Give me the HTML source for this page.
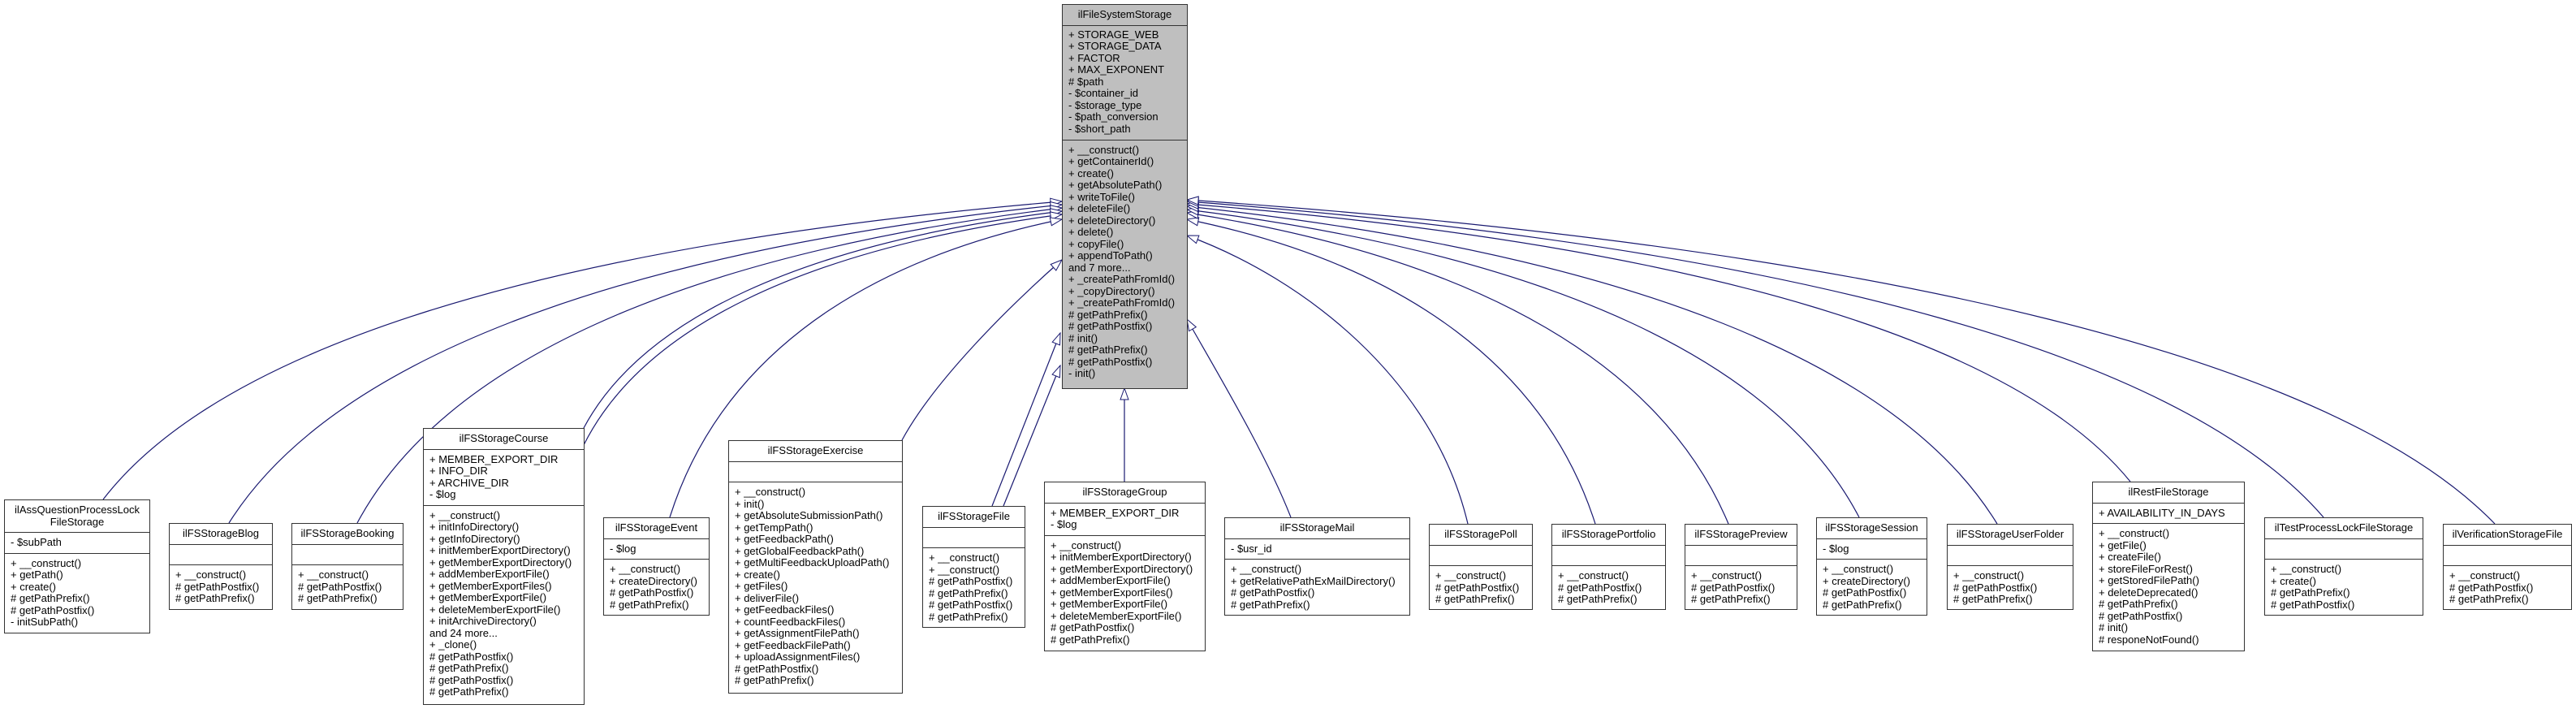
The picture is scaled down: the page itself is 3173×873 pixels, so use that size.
<!DOCTYPE html>
<html><head><meta charset="utf-8"><style>
html,body{margin:0;padding:0;background:#fff;}
body{width:3173px;height:873px;position:relative;overflow:hidden;font-family:"Liberation Sans",Arial,sans-serif;font-size:13px;color:#000;}
.b{position:absolute;border:1px solid #333;background:#fff;box-sizing:border-box;}
.b.main{background:#bfbfbf;}
.t{text-align:center;line-height:14.5px;padding:5px 3px 5px;border-bottom:1px solid #333;white-space:nowrap;}
.s{line-height:14.5px;padding:5px 7px 5px;border-bottom:1px solid #333;white-space:nowrap;min-height:14.5px;}
.s:last-child{border-bottom:none;}
svg{position:absolute;left:0;top:0;}
</style></head><body>
<svg width="3173" height="873" viewBox="0 0 3173 873">
<defs><marker id="a" markerUnits="userSpaceOnUse" markerWidth="16" markerHeight="12" viewBox="-1 -6 16 12" refX="14" refY="0" orient="auto"><polygon points="0,-5 14,0 0,5" fill="#fff" stroke="#191970" stroke-width="1"/></marker></defs>
<g fill="none" stroke="#191970" stroke-width="1.2" marker-end="url(#a)">
<path d="M127,615 C269,431 658,303 1308,248"/>
<path d="M282,644 C405,448 744,311 1308,252"/>
<path d="M440,644 C544,450 831,314 1308,256"/>
<path d="M719,527 C790,394 984,300 1308,260"/>
<path d="M719,548 C790,406 984,307 1308,264"/>
<path d="M825,637 C883,454 1042,325 1308,270"/>
<path d="M1111,542 C1150,470 1240,380 1308,320"/>
<path d="M1222,623 L1306,410"/>
<path d="M1236,623 L1306,450"/>
<path d="M1385,593 L1385,478"/>
<path d="M1590,637 C1560,560 1500,460 1462,393"/>
<path d="M1808,645 C1766,467 1606,343 1462,290"/>
<path d="M1965,645 C1905,457 1736,326 1462,270"/>
<path d="M2129,645 C2049,453 1829,319 1462,262"/>
<path d="M2290,637 C2191,447 1917,315 1462,258"/>
<path d="M2460,645 C2340,449 2011,313 1462,254"/>
<path d="M2624,593 C2485,422 2101,302 1462,251"/>
<path d="M2862,637 C2694,442 2232,306 1462,248"/>
<path d="M3073,645 C2880,445 2337,306 1462,246"/>
</g></svg>

<div class="b main" style="left:1308px;top:5px;width:155px;height:474px;">
<div class="t">ilFileSystemStorage</div>
<div class="s" style="height:132px;box-sizing:content-box;padding-top:4px;padding-bottom:4px">+ STORAGE_WEB<br>+ STORAGE_DATA<br>+ FACTOR<br>+ MAX_EXPONENT<br># $path<br>- $container_id<br>- $storage_type<br>- $path_conversion<br>- $short_path</div>
<div class="s">+ __construct()<br>+ getContainerId()<br>+ create()<br>+ getAbsolutePath()<br>+ writeToFile()<br>+ deleteFile()<br>+ deleteDirectory()<br>+ delete()<br>+ copyFile()<br>+ appendToPath()<br>and 7 more...<br>+ _createPathFromId()<br>+ _copyDirectory()<br>+ _createPathFromId()<br># getPathPrefix()<br># getPathPostfix()<br># init()<br># getPathPrefix()<br># getPathPostfix()<br>- init()</div>
</div>

<div class="b" style="left:5px;top:615px;width:180px;height:165px;">
<div class="t">ilAssQuestionProcessLock<br>FileStorage</div>
<div class="s">- $subPath</div>
<div class="s">+ __construct()<br>+ getPath()<br>+ create()<br># getPathPrefix()<br># getPathPostfix()<br>- initSubPath()</div>
</div>

<div class="b" style="left:208px;top:644px;width:128px;height:107px;">
<div class="t">ilFSStorageBlog</div>
<div class="s"></div>
<div class="s">+ __construct()<br># getPathPostfix()<br># getPathPrefix()</div>
</div>

<div class="b" style="left:359px;top:644px;width:138px;height:107px;">
<div class="t">ilFSStorageBooking</div>
<div class="s"></div>
<div class="s">+ __construct()<br># getPathPostfix()<br># getPathPrefix()</div>
</div>

<div class="b" style="left:521px;top:527px;width:199px;height:341px;">
<div class="t">ilFSStorageCourse</div>
<div class="s">+ MEMBER_EXPORT_DIR<br>+ INFO_DIR<br>+ ARCHIVE_DIR<br>- $log</div>
<div class="s">+ __construct()<br>+ initInfoDirectory()<br>+ getInfoDirectory()<br>+ initMemberExportDirectory()<br>+ getMemberExportDirectory()<br>+ addMemberExportFile()<br>+ getMemberExportFiles()<br>+ getMemberExportFile()<br>+ deleteMemberExportFile()<br>+ initArchiveDirectory()<br>and 24 more...<br>+ _clone()<br># getPathPostfix()<br># getPathPrefix()<br># getPathPostfix()<br># getPathPrefix()</div>
</div>

<div class="b" style="left:743px;top:637px;width:131px;height:121px;">
<div class="t">ilFSStorageEvent</div>
<div class="s">- $log</div>
<div class="s">+ __construct()<br>+ createDirectory()<br># getPathPostfix()<br># getPathPrefix()</div>
</div>

<div class="b" style="left:897px;top:542px;width:215px;height:312px;">
<div class="t">ilFSStorageExercise</div>
<div class="s"></div>
<div class="s">+ __construct()<br>+ init()<br>+ getAbsoluteSubmissionPath()<br>+ getTempPath()<br>+ getFeedbackPath()<br>+ getGlobalFeedbackPath()<br>+ getMultiFeedbackUploadPath()<br>+ create()<br>+ getFiles()<br>+ deliverFile()<br>+ getFeedbackFiles()<br>+ countFeedbackFiles()<br>+ getAssignmentFilePath()<br>+ getFeedbackFilePath()<br>+ uploadAssignmentFiles()<br># getPathPostfix()<br># getPathPrefix()</div>
</div>

<div class="b" style="left:1136px;top:623px;width:127px;height:150px;">
<div class="t">ilFSStorageFile</div>
<div class="s"></div>
<div class="s">+ __construct()<br>+ __construct()<br># getPathPostfix()<br># getPathPrefix()<br># getPathPostfix()<br># getPathPrefix()</div>
</div>

<div class="b" style="left:1286px;top:593px;width:199px;height:209px;">
<div class="t">ilFSStorageGroup</div>
<div class="s">+ MEMBER_EXPORT_DIR<br>- $log</div>
<div class="s">+ __construct()<br>+ initMemberExportDirectory()<br>+ getMemberExportDirectory()<br>+ addMemberExportFile()<br>+ getMemberExportFiles()<br>+ getMemberExportFile()<br>+ deleteMemberExportFile()<br># getPathPostfix()<br># getPathPrefix()</div>
</div>

<div class="b" style="left:1508px;top:637px;width:229px;height:121px;">
<div class="t">ilFSStorageMail</div>
<div class="s">- $usr_id</div>
<div class="s">+ __construct()<br>+ getRelativePathExMailDirectory()<br># getPathPostfix()<br># getPathPrefix()</div>
</div>

<div class="b" style="left:1760px;top:645px;width:128px;height:106px;">
<div class="t">ilFSStoragePoll</div>
<div class="s"></div>
<div class="s">+ __construct()<br># getPathPostfix()<br># getPathPrefix()</div>
</div>

<div class="b" style="left:1911px;top:645px;width:141px;height:106px;">
<div class="t">ilFSStoragePortfolio</div>
<div class="s"></div>
<div class="s">+ __construct()<br># getPathPostfix()<br># getPathPrefix()</div>
</div>

<div class="b" style="left:2075px;top:645px;width:139px;height:106px;">
<div class="t">ilFSStoragePreview</div>
<div class="s"></div>
<div class="s">+ __construct()<br># getPathPostfix()<br># getPathPrefix()</div>
</div>

<div class="b" style="left:2237px;top:637px;width:137px;height:121px;">
<div class="t">ilFSStorageSession</div>
<div class="s">- $log</div>
<div class="s">+ __construct()<br>+ createDirectory()<br># getPathPostfix()<br># getPathPrefix()</div>
</div>

<div class="b" style="left:2398px;top:645px;width:156px;height:106px;">
<div class="t">ilFSStorageUserFolder</div>
<div class="s"></div>
<div class="s">+ __construct()<br># getPathPostfix()<br># getPathPrefix()</div>
</div>

<div class="b" style="left:2577px;top:593px;width:188px;height:209px;">
<div class="t">ilRestFileStorage</div>
<div class="s">+ AVAILABILITY_IN_DAYS</div>
<div class="s">+ __construct()<br>+ getFile()<br>+ createFile()<br>+ storeFileForRest()<br>+ getStoredFilePath()<br>+ deleteDeprecated()<br># getPathPrefix()<br># getPathPostfix()<br># init()<br># responeNotFound()</div>
</div>

<div class="b" style="left:2789px;top:637px;width:196px;height:121px;">
<div class="t">ilTestProcessLockFileStorage</div>
<div class="s"></div>
<div class="s">+ __construct()<br>+ create()<br># getPathPrefix()<br># getPathPostfix()</div>
</div>

<div class="b" style="left:3009px;top:645px;width:159px;height:106px;">
<div class="t">ilVerificationStorageFile</div>
<div class="s"></div>
<div class="s">+ __construct()<br># getPathPostfix()<br># getPathPrefix()</div>
</div>
</body></html>
